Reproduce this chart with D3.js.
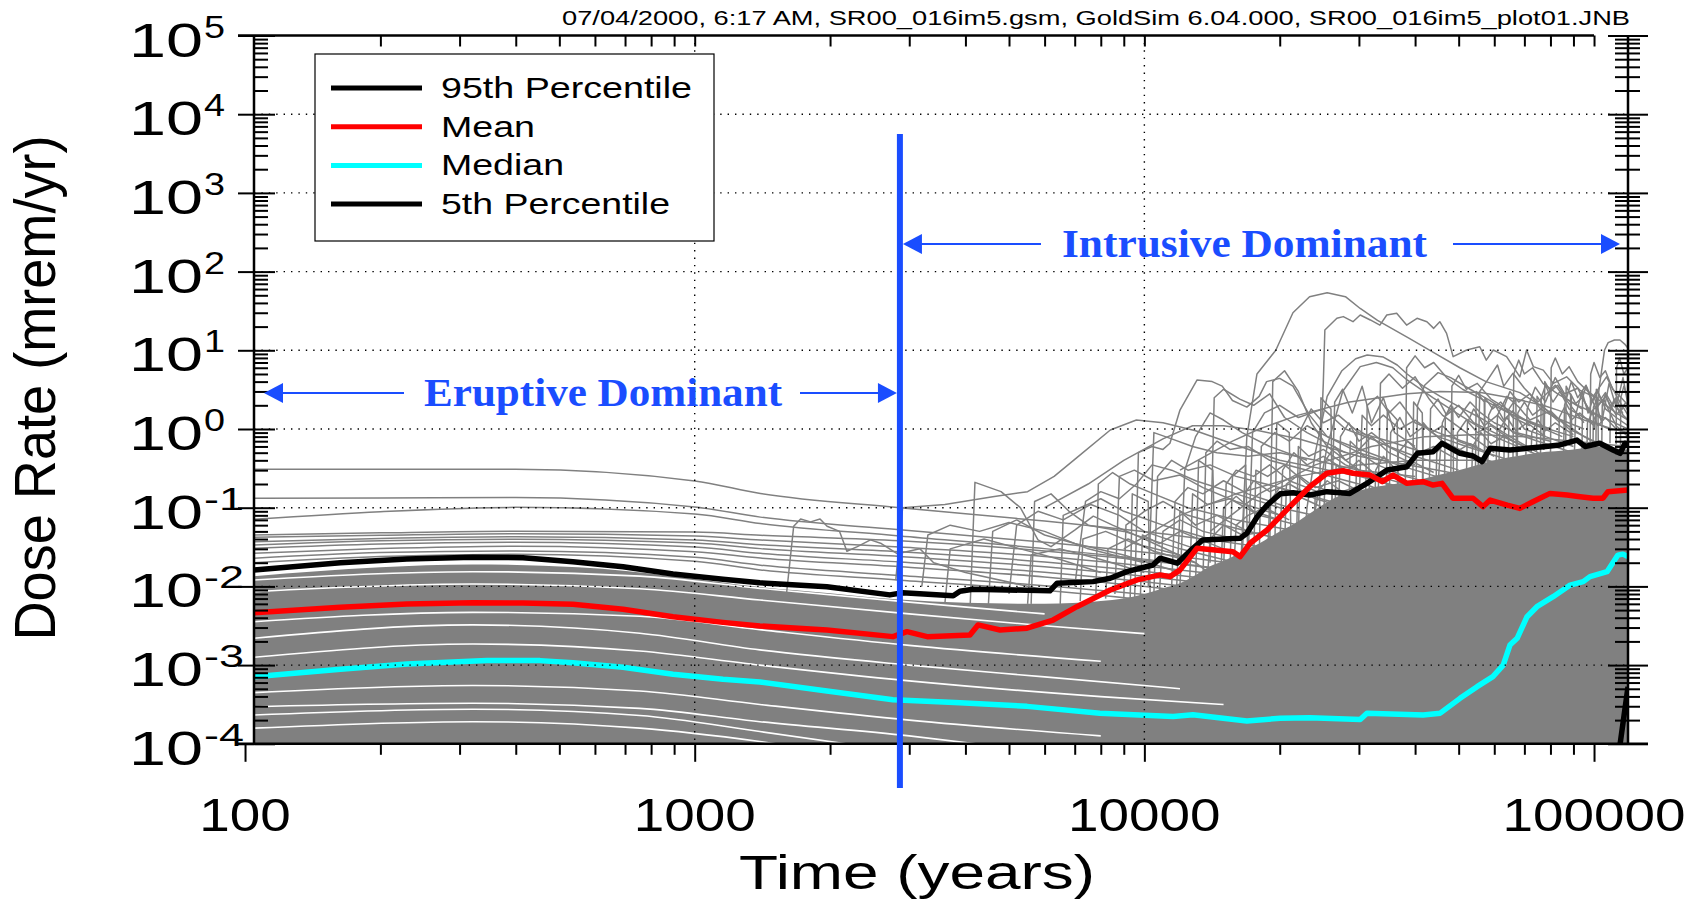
<!DOCTYPE html>
<html>
<head>
<meta charset="utf-8">
<script src="https://cdn.jsdelivr.net/npm/d3@7"></script>
<style>
  html, body { margin: 0; padding: 0; background: #fff; }
  svg { display: block; }
</style>
</head>
<body>
<script>
const W = 1704
const H = 905

// axis values
const timeStart = 104.7
const timeEnd = 119000
const boundaryTime = 2860
const yMajor = [1e-4, 1e-3, 1e-2, 1e-1, 1, 10, 100, 1e3, 1e4, 1e5]
const yExponents = ['-4', '-3', '-2', '-1', '0', '1', '2', '3', '4', '5']
const xMajor = [100, 1000, 10000, 100000]
const xLabels = ['100', '1000', '10000', '100000']
const legendNames = ['95th Percentile', 'Mean', 'Median', '5th Percentile']

// statistics (time in years, dose in mrem/yr)
const p95 = [[104.7, 0.0161], [163, 0.02], [229, 0.0223], [321, 0.0234], [415, 0.0232], [536, 0.0206], [693, 0.0178], [895, 0.0144], [1156, 0.0123], [1396, 0.0111], [1968, 0.0099], [2716, 0.0078], [2900, 0.0083], [3758, 0.0076], [3890, 0.0087], [4159, 0.0092], [6166, 0.0088], [6397, 0.011], [7691, 0.0115], [8395, 0.0127], [9141, 0.0154], [10447, 0.0187], [10839, 0.0228], [11830, 0.0197], [12823, 0.0305], [13490, 0.0389], [16330, 0.0408], [16904, 0.0473], [17824, 0.0769], [18750, 0.108], [20045, 0.15], [21429, 0.155], [23335, 0.145], [25468, 0.16], [28642, 0.152], [31260, 0.204], [34670, 0.301], [38370, 0.332], [40460, 0.491], [43850, 0.515], [45920, 0.658], [50350, 0.491], [53830, 0.454], [56360, 0.385], [58750, 0.569], [65010, 0.541], [77090, 0.596], [83950, 0.627], [91620, 0.724], [95500, 0.6], [103000, 0.658], [110200, 0.541], [114300, 0.491], [117200, 0.658], [119000, 0.6]]
const meanDose = [[104.7, 0.00463], [163, 0.00543], [229, 0.00597], [321, 0.00621], [415, 0.00615], [536, 0.00593], [693, 0.00512], [895, 0.00412], [1156, 0.00349], [1396, 0.00314], [1968, 0.00279], [2760, 0.0023], [2965, 0.00266], [3289, 0.0023], [4093, 0.00241], [4266, 0.00324], [4775, 0.00279], [5483, 0.00294], [6266, 0.00374], [7079, 0.00552], [8395, 0.009], [9638, 0.0121], [10839, 0.014], [11402, 0.0133], [11995, 0.0161], [13092, 0.0305], [15740, 0.0276], [16330, 0.0239], [17180, 0.0353], [18750, 0.0521], [20045, 0.0769], [21429, 0.114], [23335, 0.185], [25468, 0.274], [27669, 0.295], [29107, 0.274], [31770, 0.26], [33810, 0.214], [35730, 0.26], [38370, 0.204], [41690, 0.214], [43850, 0.194], [45920, 0.204], [48530, 0.132], [53830, 0.132], [56620, 0.103], [58750, 0.125], [64120, 0.108], [68390, 0.098], [73110, 0.119], [79800, 0.152], [87100, 0.145], [93110, 0.138], [99540, 0.132], [104700, 0.132], [107400, 0.16], [119000, 0.168]]
const median = [[104.7, 0.000713], [163, 0.000883], [229, 0.00103], [345, 0.00114], [453, 0.00114], [536, 0.00107], [693, 0.000938], [895, 0.000764], [1156, 0.00066], [1396, 0.00061], [1968, 0.00047], [2760, 0.000363], [3890, 0.000333], [5483, 0.000299], [7962, 0.000245], [11588, 0.000223], [12823, 0.000234], [16904, 0.000195], [20045, 0.000211], [23335, 0.000215], [30200, 0.000204], [31260, 0.000245], [41690, 0.000232], [45500, 0.000245], [50350, 0.000378], [54950, 0.000532], [59570, 0.000713], [62810, 0.001], [65010, 0.0018], [67450, 0.00219], [70960, 0.00412], [74640, 0.00552], [81100, 0.0074], [88510, 0.0104], [94620, 0.0115], [97950, 0.0133], [106900, 0.0154], [113000, 0.025], [115900, 0.0257], [119000, 0.0239]]
const p5 = [[113500, 0.00009], [114300, 0.0001], [119000, 0.00053]]

// dense cloud of realizations (upper edge of the solid gray)
const bandTimes = [104.7, 200, 320, 550, 900, 1400, 2000, 2860, 4000, 6000, 8000, 9000, 10000, 11000, 12000, 13000, 14000, 15000, 16000, 17000, 18000, 19000, 20000, 21500, 23000, 25000, 27000, 29500, 32000, 36000, 40000, 45000, 50000, 55000, 60000, 67000, 75000, 82000, 90000, 97000, 105000, 112000, 119000]
const bandUpper = [0.0135, 0.0175, 0.019, 0.0175, 0.0135, 0.0098, 0.0082, 0.0068, 0.0062, 0.006, 0.0065, 0.007, 0.008, 0.0095, 0.011, 0.014, 0.018, 0.021, 0.025, 0.03, 0.035, 0.042, 0.05, 0.062, 0.08, 0.11, 0.14, 0.16, 0.18, 0.2, 0.22, 0.26, 0.3, 0.35, 0.4, 0.45, 0.5, 0.52, 0.55, 0.58, 0.6, 0.56, 0.55]
const bandFloor = 1e-4

// white streaks between bundles of realizations
const gaps = [
  [[104.7, 0.01205], [321, 0.01538], [755, 0.01349], [1396, 0.00944], [3000, 0.00631], [6000, 0.00447]],
  [[104.7, 0.00857], [321, 0.01072], [755, 0.00933], [1396, 0.00671], [3000, 0.00447], [6000, 0.00316], [10000, 0.00251]],
  [[104.7, 0.00355], [321, 0.00468], [755, 0.00417], [1396, 0.00282], [3000, 0.00178], [8000, 0.00112]],
  [[104.7, 0.00219], [321, 0.00324], [755, 0.00254], [1396, 0.00156], [3000, 0.001], [6000, 0.000708], [12000, 0.000501]],
  [[104.7, 0.00126], [321, 0.00185], [755, 0.00151], [1396, 0.001], [3000, 0.000631], [8000, 0.000398], [15000, 0.000316]],
  [[104.7, 0.000447], [321, 0.00055], [755, 0.000468], [1396, 0.000316], [3000, 0.0002], [8000, 0.000126]],
  [[104.7, 0.000296], [321, 0.000327], [755, 0.000282], [1396, 0.000191], [3000, 0.000126], [5000, 0.0000891]],
  [[104.7, 0.000232], [321, 0.000275], [755, 0.000229], [1396, 0.000143], [2500, 0.0000891]],
  [[104.7, 0.000158], [321, 0.000191], [755, 0.000158], [1396, 0.000107], [2000, 0.0000794]]
]

// smooth eruptive realizations above the cloud
const eruptiveTimes = [104.7, 200, 400, 1000, 1400, 2860, 6000, 12000, 25000, 60000, 119000]
const eruptiveRealizations = [
  [0.308, 0.309, 0.309, 0.219, 0.152, 0.1, 0.0676, 0.0437, 0.024, 0.00955, 0.0038],
  [0.132, 0.133, 0.135, 0.102, 0.0759, 0.0525, 0.0363, 0.024, 0.0132, 0.00525, 0.002],
  [0.0711, 0.0891, 0.101, 0.0832, 0.0631, 0.0437, 0.0302, 0.0195, 0.0107, 0.00417, 0.00158],
  [0.045, 0.0479, 0.0501, 0.049, 0.0447, 0.038, 0.0282, 0.0191, 0.0112, 0.00501, 0.002],
  [0.0421, 0.0447, 0.0468, 0.0437, 0.0389, 0.0316, 0.024, 0.0162, 0.00955, 0.00417, 0.00158],
  [0.037, 0.0407, 0.0427, 0.0389, 0.0339, 0.0275, 0.0204, 0.0138, 0.00794, 0.00355, 0.00141],
  [0.0336, 0.038, 0.0398, 0.0355, 0.0302, 0.024, 0.0178, 0.012, 0.00692, 0.00316, 0.00126],
  [0.0305, 0.0347, 0.0363, 0.0316, 0.0263, 0.0204, 0.0151, 0.0102, 0.00603, 0.00275, 0.00112],
  [0.0263, 0.0302, 0.0324, 0.0275, 0.0229, 0.0178, 0.0132, 0.00891, 0.00501, 0.00224, 0.001],
  [0.0228, 0.0269, 0.0282, 0.0234, 0.0186, 0.0138, 0.0102, 0.00708, 0.00398, 0.00178, 0.000794],
  [0.02, 0.024, 0.0257, 0.0209, 0.0162, 0.012, 0.00891, 0.00603, 0.00355, 0.00158, 0.000631]
]

// jagged intrusive realizations
const intrusiveRealizations = [
  [[2800, 0.012], [2900, 0.1], [3600, 0.11], [4600, 0.138], [5500, 0.16], [6300, 0.25], [7100, 0.44], [8400, 0.97], [9600, 1.3], [11000, 1.2], [13000, 0.95], [15700, 0.65], [20000, 0.4], [30000, 0.25], [50000, 0.12], [80000, 0.06]],
  [[6000, 0.1], [7500, 0.2], [9000, 0.4], [11000, 0.75], [12800, 1.1], [15000, 1.1], [18000, 0.95], [22000, 0.75], [30000, 0.45], [45000, 0.3], [70000, 0.18], [119000, 0.1]],
  [[4100, 0.006], [4200, 0.21], [4800, 0.16], [5300, 0.1], [5800, 0.039], [6200, 0.032], [7000, 0.052], [7700, 0.078], [8500, 0.06], [10000, 0.04], [13000, 0.02], [16000, 0.008]],
  [[1600, 0.008], [1660, 0.058], [1720, 0.072], [1810, 0.066], [1900, 0.072], [1970, 0.058], [2100, 0.05], [2180, 0.028], [2300, 0.032], [2460, 0.039], [2600, 0.035], [2820, 0.026], [3170, 0.03], [3400, 0.02], [4000, 0.015], [6000, 0.009]],
  [[9500, 0.005], [9700, 0.5], [10400, 0.6], [11000, 0.55], [11400, 0.66], [12000, 1.74], [13100, 4.2], [14150, 4.0], [14900, 3.5], [15700, 2.3], [16900, 1.9], [18000, 2.6], [18700, 4.0], [20000, 4.4], [21400, 3.5], [23300, 1.5], [25500, 0.8], [30000, 0.5], [40000, 0.3], [60000, 0.15]],
  [[16300, 0.01], [16900, 0.8], [17800, 5], [19600, 10], [21400, 30], [23300, 48], [25500, 54], [28000, 48], [30200, 34], [33000, 24], [39000, 14], [44500, 9], [50300, 6], [57500, 4], [68400, 2.9], [77000, 1.9], [84000, 1.3], [95000, 0.8], [110000, 0.5], [119000, 0.4]],
  [[24600, 0.4], [25000, 3.8], [25200, 18.1], [26800, 25.5], [27700, 26.8], [29100, 23.1], [30200, 28.1], [31800, 24.3], [33400, 20.9], [34600, 28.1], [36400, 29.5], [38300, 20.9], [40400, 25.5], [42500, 23.1], [44000, 19], [45400, 23.1], [47000, 16.4], [48600, 8.3], [52100, 10.1], [55700, 11.1], [57600, 7.5], [59700, 10.1], [63900, 8.3], [66100, 6.2], [68400, 4.6], [70800, 10.1], [73300, 6.2], [77100, 5.6], [81200, 3.8], [86900, 4.6], [93100, 3.1], [99600, 2.6], [106600, 4.6], [114200, 2.2], [119000, 1.5]],
  [[100000, 1], [103000, 3.8], [105500, 10], [107500, 12.5], [111000, 13.5], [114200, 13.5], [117000, 12], [119000, 10.6]],
  [[22500, 0.02], [23000, 0.1], [24000, 0.5], [25500, 2.6], [27500, 5.5], [29500, 7.8], [31300, 8.7], [34000, 8.2], [36500, 6.5], [38400, 5], [41700, 3.5], [45500, 2.6], [50300, 1.9], [57000, 1.3], [65000, 0.8], [75000, 0.5], [90000, 0.3], [110000, 0.2]],
  [[23500, 0.05], [25500, 0.6], [27600, 3], [30200, 6.2], [32800, 7], [35700, 6], [38400, 4.2], [43800, 2.5], [50300, 1.5], [60000, 0.8], [80000, 0.4]],
  [[12000, 0.3], [15700, 0.7], [18000, 1.0], [22000, 1.5], [28600, 2.2], [38400, 2.8], [45500, 3.0], [56000, 2.9], [65000, 2.5], [77000, 2.0], [84000, 1.7], [95000, 1.3], [110000, 1.0], [119000, 0.9]],
  [[7000, 0.01], [7400, 0.12], [8000, 0.16], [8800, 0.13], [9600, 0.2], [10400, 0.35], [11500, 0.3], [13000, 0.22], [16000, 0.15], [20000, 0.1], [30000, 0.06]],
  [[10200, 0.01], [10500, 0.9], [11500, 0.75], [12800, 0.6], [14500, 0.5], [17000, 0.45], [20000, 0.5], [24000, 0.4], [30000, 0.3], [40000, 0.25]],
  [[14000, 0.02], [14300, 2.5], [15000, 3.2], [16300, 2.4], [17500, 2.0], [19000, 2.8], [20500, 1.4], [23000, 0.9], [28000, 0.5]],
  [[19000, 0.03], [19300, 4], [20500, 5.5], [22000, 3], [23500, 1.2], [25500, 0.6], [30000, 0.3]],
  [[26000, 0.05], [26500, 2.2], [27600, 3.2], [29000, 1.6], [30500, 3.5], [32000, 1.2], [34000, 2.5], [36000, 0.9], [40000, 0.6]],
  [[33000, 0.05], [33500, 3.8], [35000, 5], [37500, 3.3], [40000, 4.6], [43000, 2.4], [46000, 1.5], [52000, 0.9], [60000, 0.5]],
  [[40000, 0.05], [40500, 2], [42000, 3.6], [45000, 5.2], [48000, 4.5], [53000, 3.2], [58000, 2.4], [66000, 1.5], [75000, 1.1], [90000, 0.8]],
  [[55000, 0.1], [55700, 3], [58000, 4.2], [61000, 6.5], [63000, 3.5], [66000, 5.1], [70000, 3.3], [75000, 2.2], [82000, 3.6], [88000, 2.1], [95000, 1.2]],
  [[70000, 0.1], [71000, 1.8], [74000, 3.4], [78000, 2.2], [82000, 4.5], [86000, 2.8], [92000, 3.3], [98000, 1.6], [105000, 2.4], [112000, 1.1], [119000, 0.8]],
  [[85000, 0.1], [86000, 2], [89000, 4], [92000, 2.5], [96000, 3.6], [101000, 1.8], [106000, 2.6], [112000, 1.5], [118000, 2.2]],
  [[60000, 0.05], [61000, 1.5], [64000, 2.6], [68000, 1.9], [72000, 1.3], [80000, 1.7], [88000, 1.0], [100000, 0.7], [119000, 0.5]],
  [[17000, 0.02], [17400, 0.9], [18500, 1.6], [20000, 2], [22000, 1.4], [25000, 1.8], [28000, 1.0], [33000, 0.7], [40000, 0.4]],
  [[8600, 0.008], [8800, 0.25], [9500, 0.3], [10500, 0.22], [12000, 0.26], [13500, 0.18], [16000, 0.12], [20000, 0.08]],
  [[5000, 0.008], [5200, 0.06], [5800, 0.09], [6600, 0.07], [7600, 0.11], [8800, 0.08], [10000, 0.05], [13000, 0.03]],
  [[3200, 0.01], [3300, 0.045], [3700, 0.06], [4300, 0.05], [5000, 0.065], [6000, 0.05], [7500, 0.03], [10000, 0.02]],
  [[12000, 0.01], [12300, 0.3], [13000, 0.8], [14000, 1.6], [15000, 1.3], [16500, 0.9], [19000, 0.6], [23000, 0.4]],
  [[45000, 0.2], [46000, 1.2], [48000, 2], [50000, 1.4], [53000, 2.2], [56000, 1.6], [60000, 1.2], [67000, 0.9], [80000, 0.7]],
  [[90000, 0.2], [91000, 1.5], [94000, 3], [97000, 1.6], [100000, 2.6], [104000, 1.2], [108000, 3.8], [112000, 1.9], [116000, 4.5], [119000, 2]],
  [[30000, 0.1], [30500, 1.5], [32000, 1.1], [34000, 1.5], [37000, 1.0], [40000, 1.3], [45000, 0.8], [52000, 0.6], [65000, 0.4]],
  [[4500, 0.006], [4600, 0.05], [5200, 0.07], [6000, 0.045], [7000, 0.035], [9000, 0.025], [12000, 0.015]],
  [[5600, 0.006], [5700, 0.12], [6200, 0.15], [6800, 0.09], [7500, 0.06], [9000, 0.05], [12000, 0.03], [16000, 0.02]],
  [[6500, 0.006], [6600, 0.08], [7200, 0.1], [8000, 0.13], [9000, 0.09], [11000, 0.06], [14000, 0.04]],
  [[7800, 0.007], [7900, 0.2], [8500, 0.28], [9300, 0.2], [10500, 0.15], [12500, 0.1], [16000, 0.07], [22000, 0.05]],
  [[9000, 0.007], [9100, 0.06], [10000, 0.09], [11000, 0.12], [12500, 0.08], [15000, 0.06], [20000, 0.04]],
  [[3600, 0.006], [3700, 0.03], [4400, 0.04], [5300, 0.03], [6500, 0.022], [8000, 0.015]],
  [[10500, 0.008], [10700, 0.25], [11500, 0.4], [12500, 0.3], [14000, 0.35], [16000, 0.25], [20000, 0.18], [26000, 0.12]],
  [[11500, 0.01], [11700, 0.12], [12500, 0.18], [13500, 0.15], [15000, 0.22], [17000, 0.15], [21000, 0.1]],
  [[13500, 0.012], [13700, 0.5], [14500, 0.7], [15500, 0.55], [17000, 0.6], [19000, 0.4], [23000, 0.3], [30000, 0.2]],
  [[15000, 0.015], [15200, 0.2], [16000, 0.3], [17500, 0.25], [19000, 0.35], [21000, 0.22], [25000, 0.15]],
  [[18000, 0.02], [18200, 0.6], [19500, 0.9], [21000, 0.7], [23000, 1.1], [25500, 0.8], [29000, 0.6], [35000, 0.4]],
  [[20000, 0.03], [20300, 0.3], [21500, 0.5], [23000, 0.35], [25000, 0.45], [28000, 0.3], [33000, 0.22], [40000, 0.15]],
  [[22000, 0.04], [22300, 1.0], [23500, 1.8], [25000, 1.2], [27000, 1.5], [30000, 0.9], [35000, 0.7], [42000, 0.5]],
  [[27000, 0.06], [27300, 0.8], [28500, 1.2], [30000, 0.7], [32000, 0.9], [35000, 0.6], [40000, 0.45], [50000, 0.3]],
  [[31000, 0.08], [31300, 2.0], [33000, 2.6], [35000, 1.6], [37000, 2.2], [40000, 1.2], [45000, 0.9], [55000, 0.6]],
  [[35000, 0.1], [35300, 0.9], [37000, 1.4], [39000, 0.8], [42000, 1.1], [46000, 0.7], [52000, 0.5], [62000, 0.35]],
  [[38000, 0.1], [38300, 6], [40000, 8.5], [42000, 6], [44000, 7], [47000, 4.5], [51000, 3.2], [58000, 2.2], [66000, 1.5], [80000, 1]],
  [[43000, 0.15], [43300, 1.8], [45000, 2.4], [47000, 1.5], [50000, 2.0], [54000, 1.2], [60000, 0.9], [70000, 0.6]],
  [[48000, 0.2], [48300, 3.5], [50000, 4.8], [52000, 3.2], [55000, 3.8], [59000, 2.4], [64000, 1.8], [72000, 1.2], [85000, 0.8]],
  [[52000, 0.2], [52300, 1.2], [54000, 1.8], [57000, 1.1], [61000, 1.5], [66000, 0.9], [75000, 0.7], [90000, 0.5]],
  [[63000, 0.3], [63300, 2], [65000, 3], [68000, 2.2], [72000, 2.8], [76000, 1.8], [82000, 1.4], [95000, 1.0]],
  [[66000, 0.3], [66300, 5], [68000, 7.5], [70000, 5], [73000, 6], [77000, 3.8], [83000, 2.8], [92000, 2], [105000, 1.4], [119000, 1]],
  [[76000, 0.4], [76300, 2.5], [78000, 3.6], [81000, 2.2], [84000, 3.0], [88000, 1.8], [95000, 1.4], [108000, 1.0]],
  [[80000, 0.4], [80300, 6], [82000, 8], [85000, 5], [88000, 6.2], [92000, 4], [97000, 3], [104000, 2.2], [112000, 1.6], [119000, 1.3]],
  [[94000, 0.5], [94300, 2.5], [96000, 3.5], [99000, 2.2], [102000, 3], [106000, 1.8], [112000, 1.4], [119000, 1.1]],
  [[98000, 0.5], [98300, 5], [100000, 7], [103000, 4.5], [106000, 5.5], [110000, 3.2], [115000, 2.5], [119000, 2]],
  [[104000, 0.5], [104300, 2], [106000, 2.8], [109000, 1.8], [112000, 2.5], [116000, 1.5], [119000, 1.3]],
  [[58000, 0.3], [58300, 1.5], [60000, 2.1], [63000, 1.3], [66000, 1.7], [70000, 1.0], [78000, 0.8], [90000, 0.6]],
  [[25000, 0.05], [25300, 0.4], [26500, 0.6], [28000, 0.4], [30000, 0.5], [33000, 0.35], [38000, 0.25], [48000, 0.18]],
  [[16500, 0.02], [16700, 0.15], [17500, 0.22], [19000, 0.16], [21000, 0.2], [24000, 0.13], [30000, 0.09]],
  [[9000, 0.03], [12000, 0.08], [16000, 0.15], [22000, 0.25], [30000, 0.35], [40000, 0.4], [55000, 0.4], [75000, 0.35], [100000, 0.3], [119000, 0.28]],
  [[14000, 0.05], [18000, 0.15], [24000, 0.35], [32000, 0.6], [42000, 0.8], [55000, 0.85], [70000, 0.8], [90000, 0.7], [119000, 0.6]],
  [[10800, 0.008], [11000, 0.05], [12000, 0.07], [13500, 0.05], [16000, 0.04]],
  [[11800, 0.01], [12000, 0.09], [13000, 0.06], [14500, 0.08], [17000, 0.05]],
  [[12600, 0.01], [12800, 0.15], [13800, 0.11], [15500, 0.13], [18000, 0.08], [22000, 0.06]],
  [[13800, 0.012], [14000, 0.04], [15000, 0.06], [16500, 0.045], [19000, 0.05]],
  [[14800, 0.015], [15000, 0.1], [16000, 0.14], [17500, 0.09], [20000, 0.07]],
  [[15800, 0.016], [16000, 0.06], [17000, 0.08], [18500, 0.1], [21000, 0.07]],
  [[17500, 0.022], [17700, 0.3], [18800, 0.25], [20500, 0.35], [23000, 0.2], [27000, 0.15]],
  [[18800, 0.025], [19000, 0.12], [20000, 0.18], [22000, 0.14], [25000, 0.1]],
  [[20500, 0.03], [20700, 0.2], [22000, 0.26], [24000, 0.18], [27000, 0.22], [31000, 0.15]],
  [[21800, 0.035], [22000, 0.6], [23200, 0.45], [25000, 0.55], [28000, 0.35], [33000, 0.25]],
  [[23800, 0.045], [24000, 0.15], [25500, 0.22], [27500, 0.16], [31000, 0.2], [36000, 0.14]],
  [[26500, 0.06], [26700, 0.35], [28000, 0.28], [30000, 0.4], [33000, 0.25], [38000, 0.2]],
  [[28500, 0.07], [28700, 0.7], [30000, 0.55], [32000, 0.8], [35000, 0.5], [40000, 0.35]],
  [[32500, 0.09], [32700, 0.3], [34000, 0.45], [36000, 0.32], [39000, 0.4], [44000, 0.28]],
  [[36500, 0.12], [36700, 0.5], [38500, 0.7], [41000, 0.5], [44000, 0.6], [50000, 0.4]],
  [[41500, 0.14], [41700, 1.2], [43500, 0.9], [46000, 1.1], [50000, 0.7], [56000, 0.55]],
  [[44500, 0.18], [44700, 0.5], [46500, 0.7], [49000, 0.5], [53000, 0.65], [60000, 0.45]],
  [[49500, 0.22], [49700, 0.9], [52000, 1.3], [55000, 0.9], [59000, 1.1], [66000, 0.7]],
  [[53500, 0.3], [53700, 0.6], [56000, 0.9], [59000, 0.65], [63000, 0.8], [70000, 0.6]],
  [[57000, 0.35], [57200, 2.5], [59500, 1.8], [62000, 2.2], [66000, 1.4], [72000, 1.1]],
  [[61500, 0.4], [61700, 1.0], [64000, 1.4], [67000, 0.95], [71000, 1.2], [78000, 0.8]],
  [[67500, 0.45], [67700, 1.6], [70000, 2.2], [73000, 1.5], [77000, 1.9], [84000, 1.2]],
  [[72500, 0.5], [72700, 0.9], [75000, 1.3], [78000, 0.95], [82000, 1.2], [90000, 0.85]],
  [[77500, 0.55], [77700, 4], [80000, 3], [83000, 3.6], [87000, 2.4], [94000, 1.8]],
  [[83500, 0.6], [83700, 1.4], [86000, 1.9], [89000, 1.3], [93000, 1.6], [100000, 1.1]],
  [[88500, 0.62], [88700, 2.8], [91000, 2.1], [94000, 2.5], [98000, 1.7], [105000, 1.3]],
  [[96500, 0.66], [96700, 1.2], [99000, 1.6], [102000, 1.1], [106000, 1.4], [112000, 1.0]],
  [[101000, 0.68], [101200, 3.2], [103500, 2.4], [106000, 2.9], [110000, 2.0], [116000, 1.6]],
  [[108500, 0.66], [108700, 1.8], [111000, 2.4], [114000, 1.6], [117000, 2.0], [119000, 1.7]],
  [[112000, 0.64], [112200, 6], [114000, 8], [116500, 5], [119000, 6]],
  [[114500, 0.62], [114700, 2.5], [116500, 3.5], [119000, 2.4]],
  [[5500, 0.006], [5600, 0.025], [6500, 0.03], [8000, 0.022], [10000, 0.015]],
  [[7200, 0.0065], [7300, 0.04], [8200, 0.05], [9500, 0.035], [12000, 0.025]],
  [[8200, 0.007], [8300, 0.03], [9200, 0.04], [10500, 0.028], [13000, 0.02]],
  [[9800, 0.0075], [9900, 0.045], [10800, 0.035], [12000, 0.05], [15000, 0.03]],
  [[19500, 0.026], [19700, 1.2], [21000, 0.9], [21200, 0.03]],
  [[24500, 0.05], [24700, 2.5], [26000, 1.8], [26200, 0.06]],
  [[29500, 0.08], [29700, 1.0], [31500, 0.8], [31700, 0.09]],
  [[34500, 0.1], [34700, 1.8], [36500, 1.3], [36700, 0.12]],
  [[39500, 0.13], [39700, 2.2], [41500, 1.6], [41700, 0.15]],
  [[46500, 0.2], [46700, 1.5], [48500, 1.9], [48700, 0.22]],
  [[54500, 0.3], [54700, 3], [57000, 2.2], [57200, 0.33]],
  [[64500, 0.42], [64700, 1.8], [67000, 2.4], [67200, 0.45]],
  [[74500, 0.52], [74700, 2.6], [77000, 2], [77200, 0.54]],
  [[86500, 0.6], [86700, 3.5], [89000, 2.6], [89200, 0.62]],
  [[99500, 0.66], [99700, 1.9], [102000, 2.5], [102200, 0.67]],
  [[13000, 0.011], [13200, 0.4], [14200, 0.3], [14400, 0.013]],
  [[15500, 0.015], [15700, 0.25], [16800, 0.35], [17000, 0.018]],
  [[9300, 0.007], [9400, 0.15], [10200, 0.12], [10300, 0.008]]
]

const blue = '#1a4dff'
const gray = '#808080'
const sans = "'Liberation Sans', Arial, sans-serif"
const serif = "'Liberation Serif', 'Times New Roman', serif"

const x = d3.scaleLog().domain([timeStart, timeEnd]).range([254, 1628])
const y = d3.scaleLog().domain([1e-4, 1e5]).range([743.8, 35.5])
const [x0, x1] = x.range()
const [yB, yT] = y.range()

const svg = d3.select('body').append('svg')
    .attr('width', W)
    .attr('height', H)
    .attr('viewBox', `0 0 ${W} ${H}`)

svg.append('rect').attr('width', W).attr('height', H).attr('fill', '#fff')

svg.append('defs').append('clipPath')
    .attr('id', 'plot-clip')
    .append('rect')
    .attr('x', x0).attr('y', yT)
    .attr('width', x1 - x0).attr('height', yB - yT)

const plot = svg.append('g').attr('clip-path', 'url(#plot-clip)')

const smooth = d3.line().x(d => x(d[0])).y(d => y(d[1])).curve(d3.curveMonotoneX)
const jagged = d3.line().x(d => x(d[0])).y(d => y(d[1]))

plot.append('path')
    .datum(d3.zip(bandTimes, bandUpper))
    .attr('fill', gray)
    .attr('d', d3.area().x(d => x(d[0])).y0(y(bandFloor)).y1(d => y(d[1])).curve(d3.curveMonotoneX))

plot.selectAll('.gap')
    .data(gaps)
    .join('path')
    .attr('class', 'gap')
    .attr('fill', 'none')
    .attr('stroke', '#fff')
    .attr('stroke-width', 1.6)
    .attr('d', smooth)

plot.selectAll('.eruptive')
    .data(eruptiveRealizations.map(vals => d3.zip(eruptiveTimes, vals)))
    .join('path')
    .attr('class', 'eruptive')
    .attr('fill', 'none')
    .attr('stroke', gray)
    .attr('stroke-width', 1.5)
    .attr('d', smooth)

plot.selectAll('.intrusive')
    .data(intrusiveRealizations)
    .join('path')
    .attr('class', 'intrusive')
    .attr('fill', 'none')
    .attr('stroke', gray)
    .attr('stroke-width', 1.5)
    .attr('stroke-linejoin', 'round')
    .attr('d', jagged)

// dotted grid
const grid = svg.append('g')
    .attr('stroke', '#000')
    .attr('stroke-width', 1.4)
    .attr('stroke-dasharray', '1.4 6')
grid.selectAll('.hgrid')
    .data(yMajor.slice(1, -1))
    .join('line')
    .attr('x1', x0).attr('x2', x1)
    .attr('y1', d => y(d)).attr('y2', d => y(d))
grid.selectAll('.vgrid')
    .data([1000, 10000])
    .join('line')
    .attr('x1', d => x(d)).attr('x2', d => x(d))
    .attr('y1', yT).attr('y2', yB)

// statistics
const stats = [
    { data: p95, color: '#000' },
    { data: meanDose, color: '#ff0000' },
    { data: median, color: '#00ffff' },
    { data: p5, color: '#000' }
]
plot.selectAll('.stat')
    .data(stats)
    .join('path')
    .attr('class', 'stat')
    .attr('fill', 'none')
    .attr('stroke', d => d.color)
    .attr('stroke-width', 5.5)
    .attr('stroke-linejoin', 'round')
    .attr('d', d => jagged(d.data))

// axes
const k29 = [2, 3, 4, 5, 6, 7, 8, 9]
const yMinor = yMajor.slice(0, -1).flatMap(v => k29.map(k => k * v))
const xMinor = xMajor.slice(0, -1).flatMap(v => k29.map(k => k * v))

const ticks = (axis, values, size, transform) => {
    const g = svg.append('g')
        .attr('transform', transform)
        .call(axis.tickValues(values).tickSize(size).tickFormat(''))
    g.select('.domain').remove()
    g.selectAll('line').attr('stroke', '#000').attr('stroke-width', 2)
}

ticks(d3.axisLeft(y), yMajor, 16, `translate(${x0},0)`)
ticks(d3.axisRight(y), yMajor, 21, `translate(${x0},0)`)
ticks(d3.axisRight(y), yMinor, 14, `translate(${x0},0)`)
ticks(d3.axisLeft(y), yMajor, 20, `translate(${x1},0)`)
ticks(d3.axisRight(y), yMajor, 20, `translate(${x1},0)`)
ticks(d3.axisLeft(y), yMinor, 13, `translate(${x1},0)`)
ticks(d3.axisRight(y), yMinor, 12, `translate(${x1},0)`)
ticks(d3.axisBottom(x), xMajor, 18, `translate(0,${yB})`)
ticks(d3.axisBottom(x), xMinor, 11, `translate(0,${yB})`)
ticks(d3.axisBottom(x), xMinor.concat(xMajor.slice(1)), 11, `translate(0,${yT})`)

const frame = svg.append('g').attr('stroke', '#000').attr('stroke-width', 2.5)
frame.append('line').attr('x1', x0).attr('x2', x0).attr('y1', yT).attr('y2', yB)
frame.append('line').attr('x1', x1).attr('x2', x1).attr('y1', yT).attr('y2', yB)
frame.append('line').attr('x1', x0 - 16).attr('x2', x1 + 20).attr('y1', yB).attr('y2', yB)
frame.append('line').attr('x1', x0 - 16).attr('x2', x(100000)).attr('y1', yT).attr('y2', yT)

// tick labels
svg.selectAll('.ybase')
    .data(yMajor)
    .join('text')
    .attr('class', 'ybase')
    .attr('x', 203)
    .attr('y', d => y(d) + 21)
    .attr('text-anchor', 'end')
    .attr('font-family', sans)
    .attr('font-size', 49)
    .attr('textLength', 74)
    .attr('lengthAdjust', 'spacingAndGlyphs')
    .text('10')
svg.selectAll('.yexp')
    .data(yMajor)
    .join('text')
    .attr('class', 'yexp')
    .attr('x', 204)
    .attr('y', d => y(d) + 2)
    .attr('font-family', sans)
    .attr('font-size', 31)
    .attr('textLength', (d, i) => yExponents[i].length > 1 ? 40 : 21)
    .attr('lengthAdjust', 'spacingAndGlyphs')
    .text((d, i) => yExponents[i])

svg.selectAll('.xlabel')
    .data(xMajor)
    .join('text')
    .attr('class', 'xlabel')
    .attr('x', d => x(d))
    .attr('y', 831)
    .attr('text-anchor', 'middle')
    .attr('font-family', sans)
    .attr('font-size', 46)
    .attr('textLength', (d, i) => xLabels[i].length * 30.5)
    .attr('lengthAdjust', 'spacingAndGlyphs')
    .text((d, i) => xLabels[i])

// titles
svg.append('text')
    .attr('x', 917)
    .attr('y', 889)
    .attr('text-anchor', 'middle')
    .attr('font-family', sans)
    .attr('font-size', 49)
    .attr('textLength', 356)
    .attr('lengthAdjust', 'spacingAndGlyphs')
    .text('Time (years)')

svg.append('text')
    .attr('transform', 'translate(55,388) scale(1.15,1) rotate(-90)')
    .attr('text-anchor', 'middle')
    .attr('font-family', sans)
    .attr('font-size', 50)
    .attr('textLength', 505)
    .attr('lengthAdjust', 'spacingAndGlyphs')
    .text('Dose Rate (mrem/yr)')

svg.append('text')
    .attr('x', 1630)
    .attr('y', 25)
    .attr('text-anchor', 'end')
    .attr('font-family', sans)
    .attr('font-size', 21)
    .attr('textLength', 1068)
    .attr('lengthAdjust', 'spacingAndGlyphs')
    .text('07/04/2000, 6:17 AM, SR00_016im5.gsm, GoldSim 6.04.000, SR00_016im5_plot01.JNB')

// legend
const legend = svg.append('g').attr('transform', 'translate(315,54)')
legend.append('rect')
    .attr('width', 399)
    .attr('height', 187)
    .attr('fill', '#fff')
    .attr('stroke', '#000')
    .attr('stroke-width', 1.2)
const rows = legend.selectAll('.row')
    .data(stats)
    .join('g')
    .attr('class', 'row')
    .attr('transform', (d, i) => `translate(0,${34 + i * 38.7})`)
rows.append('line')
    .attr('x1', 16).attr('x2', 107)
    .attr('stroke', d => d.color)
    .attr('stroke-width', 5)
rows.append('text')
    .attr('x', 126)
    .attr('y', 10)
    .attr('font-family', sans)
    .attr('font-size', 29)
    .attr('textLength', (d, i) => [251, 94, 123, 229][i])
    .attr('lengthAdjust', 'spacingAndGlyphs')
    .text((d, i) => legendNames[i])

// eruptive / intrusive annotation
svg.append('line')
    .attr('x1', x(boundaryTime)).attr('x2', x(boundaryTime))
    .attr('y1', 134).attr('y2', 788)
    .attr('stroke', blue)
    .attr('stroke-width', 6)

const arrow = (xTail, xTip, yy) => {
    const dir = Math.sign(xTip - xTail)
    svg.append('line')
        .attr('x1', xTail).attr('x2', xTip - dir * 18)
        .attr('y1', yy).attr('y2', yy)
        .attr('stroke', blue)
        .attr('stroke-width', 2)
    svg.append('path')
        .attr('d', `M${xTip},${yy} L${xTip - dir * 19},${yy - 10} L${xTip - dir * 19},${yy + 10} Z`)
        .attr('fill', blue)
}
arrow(404, 264, 393)
arrow(800, x(boundaryTime) - 3, 393)
arrow(1041, x(boundaryTime) + 3, 244)
arrow(1453, 1620, 244)

svg.append('text')
    .attr('x', 603)
    .attr('y', 406)
    .attr('text-anchor', 'middle')
    .attr('font-family', serif)
    .attr('font-weight', 'bold')
    .attr('font-size', 41)
    .attr('fill', blue)
    .attr('textLength', 358)
    .attr('lengthAdjust', 'spacingAndGlyphs')
    .text('Eruptive Dominant')

svg.append('text')
    .attr('x', 1244.5)
    .attr('y', 257)
    .attr('text-anchor', 'middle')
    .attr('font-family', serif)
    .attr('font-weight', 'bold')
    .attr('font-size', 41)
    .attr('fill', blue)
    .attr('textLength', 365)
    .attr('lengthAdjust', 'spacingAndGlyphs')
    .text('Intrusive Dominant')
</script>
</body>
</html>
